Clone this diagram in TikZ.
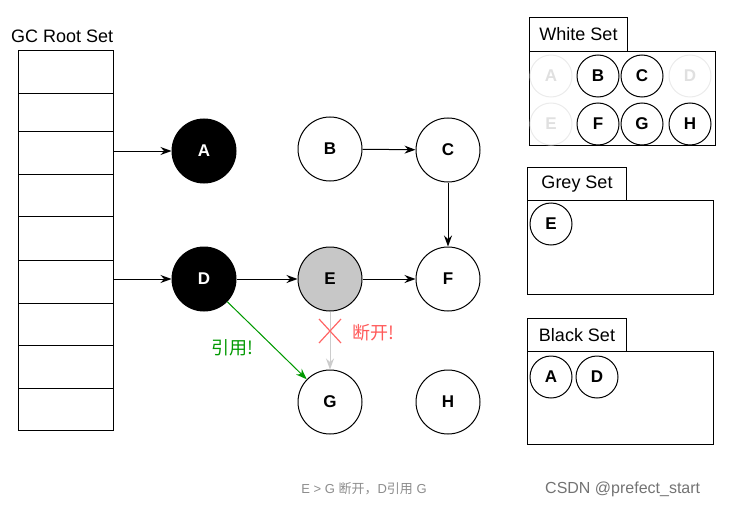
\documentclass[tikz,border=0pt]{standalone}
\usepackage{fontspec}
\setmainfont{Liberation Sans}
\newfontfamily\cjk{Noto Sans CJK SC}
\usetikzlibrary{arrows.meta,calc}
\begin{document}
\begin{tikzpicture}[x=1pt,y=-1pt,
 big/.style={circle,draw,line width=1pt,minimum size=64pt,inner sep=0,font=\bfseries\fontsize{17}{19}\selectfont},
 sm/.style={circle,draw,line width=1pt,minimum size=42pt,inner sep=0,font=\bfseries\fontsize{17}{19}\selectfont},
 faint/.style={sm,draw=black!8,text=black!12},
 arr/.style={-{Stealth[length=11pt,width=8pt]},line width=1pt},
 box/.style={draw,line width=1pt},
 lab/.style={font=\fontsize{18}{20}\selectfont}]
\useasboundingbox (0,0) rectangle (735,508);
% root set
\node[lab,anchor=west,inner sep=0] (gct) at (11,36) {GC Root Set};
\foreach \a/\b [count=\i] in {50/93,93/131,131/174,174/216,216/260,260/303,303/345,345/388,388/430}
  \node[box,minimum width=95pt,minimum height={\b-\a},inner sep=0,anchor=north west] (r\i) at (18,\a) {};
% graph nodes
\node[big,fill=black,text=white] (A) at (204,151) {A};
\node[big] (B) at (330,149) {B};
\node[big] (C) at (448,150) {C};
\node[big,fill=black,text=white] (D) at (204,279) {D};
\node[big,fill=black!22] (E) at (330,279) {E};
\node[big] (F) at (448,279) {F};
\node[big] (G) at (330,402) {G};
\node[big] (H) at (448,402) {H};
\draw[arr] (r3.east |- A) -- (A);
\draw[arr] (r6.east |- D) -- (D);
\draw[arr] (B) -- (C);
\draw[arr] (C) -- (F);
\draw[arr] (D) -- (E);
\draw[arr] (E) -- (F);
\draw[arr,draw=black!20,fill=black!20] (E) -- (G);
\draw[arr,draw=green!60!black,fill=green!60!black] (D) -- (G);
\coordinate (x) at (330,331);
\draw[red!60,line width=1.2pt] ($(x)+(-11,-12)$) -- ($(x)+(11,12)$) ($(x)+(-11,12)$) -- ($(x)+(11,-12)$);
\node[lab,text=red!65,anchor=west,inner sep=0] (dk) at (352,333) {\cjk 断开!};
\node[lab,text=green!60!black] (yy) at (232,348) {\cjk 引用!};
% White set
\node[box,lab,minimum width=98pt,minimum height=34pt,inner sep=0,anchor=north west] (wt) at (529,17) {White Set};
\node[box,minimum width=186pt,minimum height=94pt,inner sep=0,anchor=north west] (wb) at (529,51) {};
\node[faint] (wA) at (551,76) {A};
\node[sm] (wB) at (598,76) {B};
\node[sm] (wC) at (642,76) {C};
\node[faint] (wD) at (690,76) {D};
\node[faint] (wE) at (551,124) {E};
\node[sm] (wF) at (598,124) {F};
\node[sm] (wG) at (642,124) {G};
\node[sm] (wH) at (690,124) {H};
% Grey set
\node[box,lab,minimum width=99pt,minimum height=33pt,inner sep=0,anchor=north west] (gt) at (527,167) {Grey Set};
\node[box,minimum width=186pt,minimum height=94pt,inner sep=0,anchor=north west] (gb) at (527,200) {};
\node[sm] (gE) at (551,224) {E};
% Black set
\node[box,lab,minimum width=99pt,minimum height=33pt,inner sep=0,anchor=north west] (bt) at (527,318) {Black Set};
\node[box,minimum width=186pt,minimum height=93pt,inner sep=0,anchor=north west] (bb) at (527,351) {};
\node[sm] (bA) at (551,377) {A};
\node[sm] (bD) at (597,377) {D};
% captions
\node[text=black!45,font=\fontsize{13}{15}\selectfont] (cap) at (364,489) {E > G {\cjk 断开，}D{\cjk 引用} G};
\node[text=black!55,font=\fontsize{16}{18}\selectfont,anchor=west,inner sep=0] (csdn) at (545,489) {CSDN @prefect\_start};
\end{tikzpicture}
\end{document}
